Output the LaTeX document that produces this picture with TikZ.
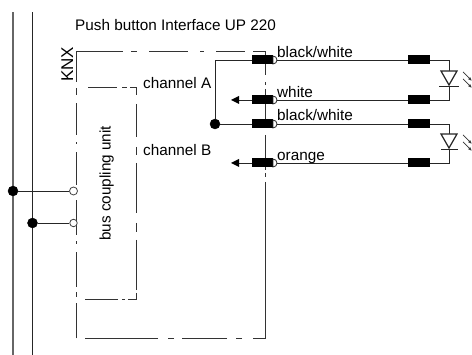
\documentclass[tikz,border=0pt]{standalone}
\usepackage{fontspec}
\setmainfont{Liberation Sans}
\usetikzlibrary{arrows.meta}
\tikzset{
  wire/.style={line width=.9pt,draw=black!85},
  frame/.style={line width=.9pt,draw=black!80},
  solidDot/.style={circle,fill=black,draw=black,inner sep=0pt,minimum size=10pt},
  openDot/.style={circle,fill=white,draw=black!75,line width=.8pt,inner sep=0pt,minimum size=8pt},
  plug/.style={fill=black,draw=none,minimum width=21pt,minimum height=9pt,inner sep=0pt},
  res/.style={fill=black,draw=none,minimum width=22pt,minimum height=9pt,inner sep=0pt},
  lab/.style={font=\fontsize{15.3pt}{16pt}\selectfont,inner sep=0pt,anchor=base west},
  led/.style={line width=1.2pt,draw=black!85,fill=white,line join=miter},
  ray/.style={line width=.7pt,draw=black!80,-{Latex[length=4pt,width=3pt]}}
}
\begin{document}
\begin{tikzpicture}[x=1pt,y=-1pt]
\useasboundingbox (0,0) rectangle (472,355);
% bus lines
\coordinate (b1t) at (13,12.5); \coordinate (b1b) at (13,355);
\coordinate (b2t) at (32,12.5); \coordinate (b2b) at (32,355);
\draw[wire,line width=1.2pt,draw=black!60] (b1t)--(b1b);
\draw[wire] (b2t)--(b2b);
% outer frame
\draw[frame] (76,82)--(76,51.5)--(123,51.5) (131,51.5)--(137,51.5) (149,51.5)--(188,51.5) (200,51.5)--(204,51.5) (216,51.5)--(245,51.5) (253,51.5)--(265.5,51.5)--(265.5,75)
 (265.5,82)--(265.5,85) (265.5,89)--(265.5,127) (265.5,135)--(265.5,170) (265.5,173)--(265.5,177) (265.5,182)--(265.5,338.5)--(253,338.5)
 (242,338.5)--(236,338.5) (227,338.5)--(182,338.5) (174,338.5)--(168,338.5) (158,338.5)--(85,338.5)
 (76,338.5)--(76,303) (76,297)--(76,292) (76,287)--(76,252) (76,244)--(76,241) (76,235)--(76,200) (76,185)--(76,152) (76,144)--(76,142) (76,135)--(76,103) (76,95)--(76,88);
% inner frame
\draw[frame] (88,87)--(117,87) (122,87)--(127,87) (130,87)--(136,87)--(136,95) (136,104)--(136,137) (136,147)--(136,155) (136,163)--(136,213)
 (136,223)--(136,232) (136,240)--(136,290) (136,293)--(136,299)--(128,299) (125,299)--(122,299) (118,299)--(85,299);
% terminals
\node[solidDot] (t1) at (13,191) {};
\node[solidDot] (t2) at (32.5,223) {};
\node[openDot] (o1) at (73.5,191) {};
\node[openDot,minimum size=7.5pt] (o2) at (73.5,223) {};
\draw[wire] (t1)--(o1);
\draw[wire] (t2)--(o2);
% connectors row positions
\foreach \n/\y in {a/60,b/100,c/124,d/163}{
  \node[plug] (p\n) at (262.5,\y) {};
  \node[res] (r\n) at (419,\y) {};
  \draw[line width=.8pt,draw=black!85,fill=white] (273,\y-4) arc[start angle=90,end angle=-90,radius=4pt]--cycle;
  \draw[wire] (277,\y)--(r\n);
}
% junction
\node[solidDot] (j) at (215,124) {};
\draw[wire] (j)--(215,60)--(pa);
\draw[wire] (j)--(pc);
% arrows out
\coordinate (ab) at (231,100); \coordinate (ad) at (231,163);
\draw[wire] (pb)--(238,100);
\draw[wire] (pd)--(238,163);
\fill (ab)--(239,96)--(239,104)--cycle;
\fill (ad)--(239,159)--(239,167)--cycle;
% LED 1
\coordinate (l1t) at (449,71); \coordinate (l1b) at (449,86);
\draw[wire] (ra)--(449,60)--(l1t);
\draw[wire] (rb)--(449,100)--(l1b);
\draw[led] (441,71)--(457,71)--(449,85)--cycle;
\draw[wire] (439,86)--(459,86);
\draw[ray] (463,72)--(472,81);
\draw[ray] (463,79)--(472,88);
% LED 2
\coordinate (l2t) at (449,134); \coordinate (l2b) at (449,149);
\draw[wire] (rc)--(449,124)--(l2t);
\draw[wire] (rd)--(449,163)--(l2b);
\draw[led] (441,134)--(457,134)--(449,148)--cycle;
\draw[wire] (441,149)--(458,149);
\draw[ray] (463,135)--(472,144);
\draw[ray] (463,142)--(472,151);
% labels
\node[lab] (title) at (75,30.5) {Push button Interface UP 220};
\node[lab,rotate=90,font=\fontsize{17pt}{18pt}\selectfont] (knx) at (73,82) {KNX};
\node[lab,rotate=90] (bcu) at (110.5,241) {bus coupling unit};
\node[lab] (cha) at (143,89) {channel A};
\node[lab] (chb) at (143,156) {channel B};
\node[lab] (w1) at (277,58) {black/white};
\node[lab] (w2) at (277,98) {white};
\node[lab] (w3) at (277,121) {black/white};
\node[lab] (w4) at (277,161) {orange};
\end{tikzpicture}
\end{document}
